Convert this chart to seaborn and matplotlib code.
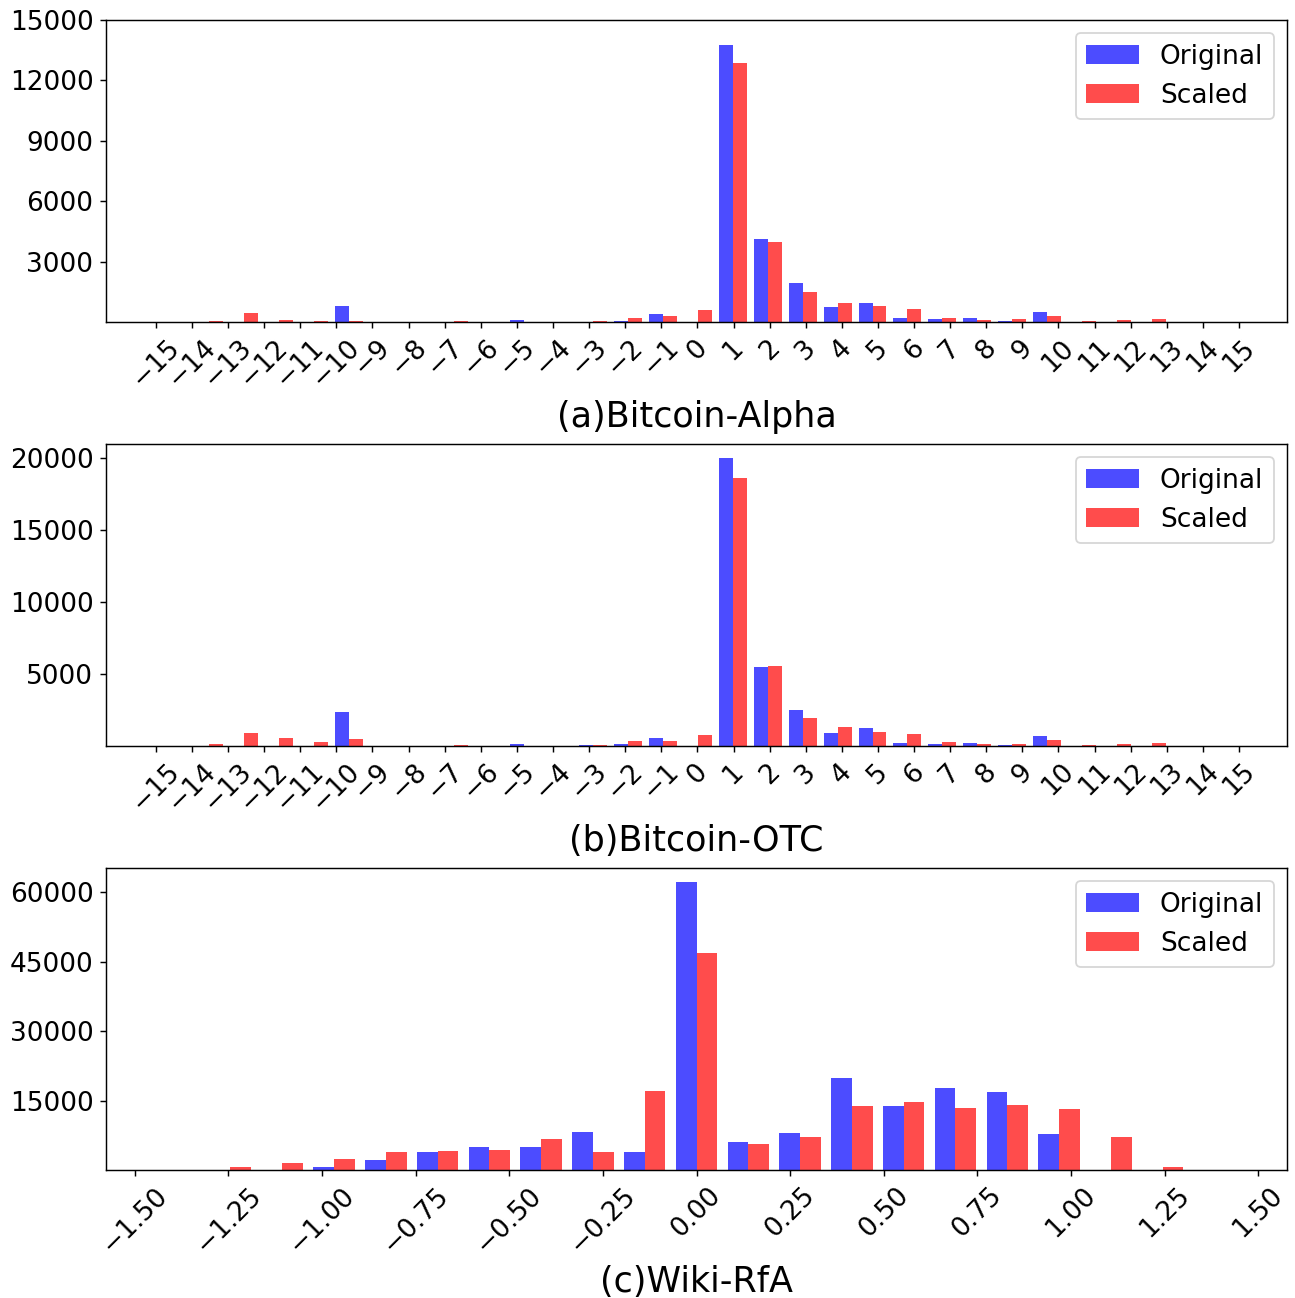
import numpy as np
import pandas as pd
import matplotlib
matplotlib.use("Agg")
import matplotlib.pyplot as plt
import seaborn as sns

# Bitcoin datasets: 30 histogram bins between -14 and 15
btc_edges = np.linspace(-14, 15, 31)
btc_centers = (btc_edges[:-1] + btc_edges[1:]) / 2

alpha_original = [0, 0, 0, 10, 795, 0, 0, 0, 0, 90, 0, 20, 50, 410, 0,
                  13760, 4100, 1915, 727, 940, 180, 130, 200, 50, 480, 0, 0, 0, 0, 0]
alpha_scaled = [65, 470, 120, 35, 30, 0, 0, 35, 10, 0, 20, 30, 180, 280, 580,
                12870, 3995, 1470, 940, 810, 630, 180, 80, 130, 300, 65, 115, 130, 0, 0]

otc_original = [0, 0, 0, 0, 2365, 0, 0, 0, 0, 160, 0, 60, 140, 580, 0,
                20045, 5520, 2530, 930, 1230, 232, 160, 230, 70, 720, 0, 0, 0, 0, 0]
otc_scaled = [116, 880, 557, 255, 464, 0, 0, 70, 25, 0, 25, 80, 325, 370, 765,
              18600, 5570, 1950, 1320, 1000, 860, 255, 116, 140, 420, 93, 140, 185, 0, 0]

# Wiki-RfA: 19 bins
wiki_edges = np.linspace(-1.314, 1.314, 20)
wiki_centers = (wiki_edges[:-1] + wiki_edges[1:]) / 2

wiki_original = [0, 0, 650, 2090, 3810, 4890, 5040, 8200, 3960, 62160,
                 6115, 7985, 20000, 13740, 17625, 16905, 7770, 0, 0]
wiki_scaled = [650, 1440, 2300, 3810, 4030, 4390, 6690, 3885, 17050, 46830,
               5680, 7120, 13885, 14675, 13310, 14100, 13165, 7050, 720]

series_names = ["Original", "Scaled"]
colores = {"Original": "blue", "Scaled": "red"}

btc_ticks = np.arange(-15, 16, 1)
wiki_ticks = np.arange(-1.5, 1.51, 0.25)

paneles = [
    ("(a)Bitcoin-Alpha", btc_centers, alpha_original, alpha_scaled, btc_ticks, (-16.38, 16.33),
     [3000, 6000, 9000, 12000, 15000], 15000),
    ("(b)Bitcoin-OTC", btc_centers, otc_original, otc_scaled, btc_ticks, (-16.38, 16.33),
     [5000, 10000, 15000, 20000], 21000),
    ("(c)Wiki-RfA", wiki_centers, wiki_original, wiki_scaled, wiki_ticks, (-1.577, 1.577),
     [15000, 30000, 45000, 60000], 65300),
]

fig = plt.figure(figsize=(1295 / 130, 1298 / 130), dpi=130)
posiciones = [0.7519, 0.4253, 0.0986]

for (titulo, centros, orig, esc, xt, xl, yt, ytop), bottom in zip(paneles, posiciones):
    ax = fig.add_axes([0.0819, bottom, 0.9119, 0.2327])
    df = pd.DataFrame({
        "x": np.concatenate([centros, centros]),
        "count": np.concatenate([orig, esc]),
        "serie": [series_names[0]] * len(centros) + [series_names[1]] * len(centros),
    })
    sns.barplot(data=df, x="x", y="count", hue="serie", hue_order=series_names,
                palette=colores, native_scale=True, dodge=True, width=0.8, gap=0,
                saturation=1, alpha=0.7, errorbar=None, legend=False, ax=ax)
    ax.set_xticks(xt)
    ax.set_xlim(*xl)
    ax.set_yticks(yt)
    ax.set_ylim(0, ytop)
    ax.tick_params(axis="both", labelsize=14.6)
    plt.setp(ax.get_xticklabels(), rotation=45)
    ax.set_xlabel(titulo, fontsize=19.4)
    ax.set_ylabel("")
    ax.legend(handles=list(ax.containers), labels=series_names,
              loc="upper right", fontsize=14.6)

fig.savefig("out.png", dpi=130)
plt.close(fig)
